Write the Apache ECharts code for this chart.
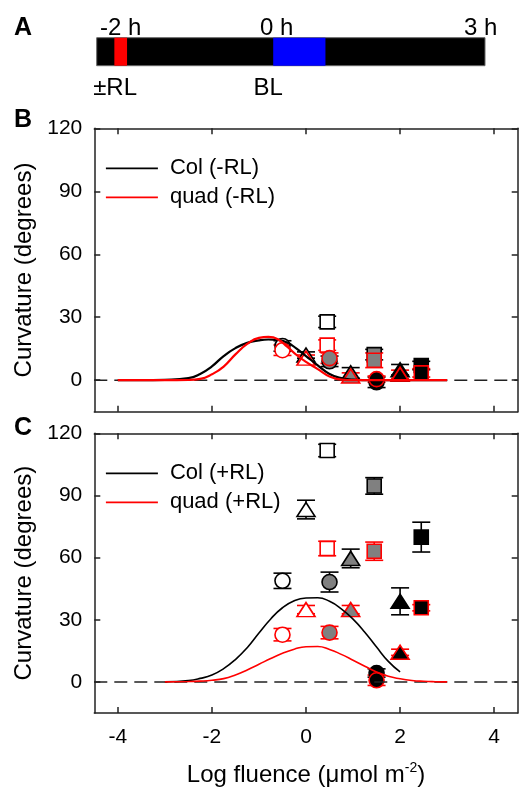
<!DOCTYPE html>
<html>
<head>
<meta charset="utf-8">
<script src="https://cdn.jsdelivr.net/npm/echarts@6/dist/echarts.min.js"></script>
<style>
  html, body { margin: 0; padding: 0; background: #fff; }
  #chart { width: 525px; height: 788px; }
</style>
</head>
<body>
<div id="chart"></div>
<script>
// ---- panel A: light schedule (hours) ----
const segStart = [-2.5, -2.25, 0];
const segEnd = [3, -2.07, 0.74];
const segColor = ['#000000', '#ff0000', '#0000ff'];
const timeTopPos = [-2.16, 0.05, 2.94];
const timeTopText = ['-2 h', '0 h', '3 h'];
const timeBotPos = [-2.24, -0.07];
const timeBotText = ['±RL', 'BL'];

// ---- panels B / C: dose response ----
const fluenceX = [-0.5, 0, 0.45, 0.5, 0.95, 1.45, 1.5, 2.0, 2.45];
const markerShape = ['circle', 'triangle', 'rect', 'circle', 'triangle', 'rect', 'circle', 'triangle', 'rect'];
const markerFill = ['open', 'open', 'open', 'gray', 'gray', 'gray', 'black', 'black', 'black'];

const colB = [16.3, 12, 27.8, 9, 3.5, 12.2, -1, 5, 7];
const colBErr = [2.5, 1.5, 2.7, 2.5, 2.5, 2.5, 2.5, 2.5, 2];
const quadB = [14.3, 10.5, 16.7, 10.5, 2, 9.5, 0.5, 2.8, 3.5];
const quadBErr = [2.5, 1.5, 2.5, 2.5, 1.5, 3.5, 1.5, 2, 2];

const colC = [48.8, 83.2, 111.7, 48.2, 59.6, 94.6, 4.3, 38.9, 69.9];
const colCErr = [3.7, 4.5, 3, 4.8, 4.5, 4, 2, 6.5, 7.2];
const quadC = [22.8, 34.9, 64.4, 23.8, 34.9, 63.1, 0.8, 14.3, 35.8];
const quadCErr = [3, 2, 3.5, 3, 2, 4.4, 2.5, 1.5, 1.5];

// fitted curves
const curveBX = [-4, -3.5, -3, -2.5, -2.25, -2, -1.75, -1.5, -1.25, -1, -0.8, -0.6, -0.4, -0.2, 0, 0.25, 0.5, 0.75, 1, 1.25, 1.5, 2, 2.5, 3];
const colBCurve = [0, 0, 0.2, 1, 3, 6.6, 11.5, 15.3, 17.8, 19, 19.4, 19.2, 18, 15, 11.5, 7.1, 3, 1, 0.3, 0.05, 0, 0, 0, 0];
const quadBCurve = [0, 0, 0, 0.1, 0.6, 2.8, 6.5, 12.3, 17.3, 20.2, 20.6, 19.5, 16, 12, 8.7, 5.3, 1.8, 0.3, 0, 0, 0, 0, 0, 0];

const colCX = [-3, -2.5, -2.25, -2, -1.75, -1.5, -1.25, -1, -0.75, -0.5, -0.25, 0, 0.25, 0.5, 0.75, 1, 1.25, 1.5, 1.75, 2];
const colCCurve = [0, 0.7, 1.7, 3.3, 6.4, 10.8, 16.5, 23.6, 30.4, 35.8, 39.2, 40.5, 40.6, 38.9, 35.3, 30.3, 24, 16.8, 9.9, 4.8];
const quadCX = [-3, -2.5, -2.25, -2, -1.75, -1.5, -1.25, -1, -0.75, -0.5, -0.25, 0, 0.25, 0.5, 0.75, 1, 1.25, 1.5, 1.75, 2, 2.25, 2.5, 2.75, 3];
const quadCCurve = [0, 0.2, 0.4, 0.8, 1.6, 3.4, 5.8, 8.5, 11.3, 13.8, 15.8, 17, 17.1, 15.7, 13.3, 10.5, 7.6, 4.8, 2.7, 1.5, 0.7, 0.3, 0.1, 0];

const zeroLineX = [-4.5, 4.5];
const xTicks = [-4, -2, 0, 2, 4];
const yTicks = [0, 30, 60, 90, 120];

const FONT = 'Liberation Sans, Arial, sans-serif';
const FRAME = '#222';
const fillColor = { open: '#ffffff', gray: '#808080', black: '#000000' };
const symSize = { circle: 15, rect: 14, triangle: [18, 14] };

const zip = (xs, ys) => xs.map((x, i) => [x, ys[i]]);

function frameX(gridIndex, position, showLabel, name) {
  return {
    type: 'value', gridIndex, position, min: -4.5, max: 4.5,
    axisLine: { onZero: false, lineStyle: { color: FRAME, width: 1.5 } },
    axisTick: { inside: true, length: 6, customValues: xTicks, lineStyle: { color: FRAME, width: 1.5 } },
    axisLabel: { show: showLabel, customValues: xTicks, fontSize: 21, margin: 14, color: '#000', fontFamily: FONT },
    splitLine: { show: false },
    name: name || '',
    nameLocation: 'middle',
    nameGap: 48,
    nameTextStyle: {
      color: '#000', fontFamily: FONT,
      rich: {
        a: { fontSize: 24, fontFamily: FONT, color: '#000' },
        s: { fontSize: 14, fontFamily: FONT, color: '#000', padding: [0, 0, 14, 0] }
      }
    }
  };
}

function frameY(gridIndex, position, showLabel) {
  return {
    type: 'value', gridIndex, position, min: -15, max: 120,
    axisLine: { onZero: false, lineStyle: { color: FRAME, width: 1.5 } },
    axisTick: { inside: true, length: 6, customValues: yTicks, lineStyle: { color: FRAME, width: 1.5 } },
    axisLabel: { show: showLabel, customValues: yTicks, fontSize: 21, margin: 12, color: '#000', fontFamily: FONT },
    splitLine: { show: false },
    name: showLabel ? 'Curvature (degrees)' : '',
    nameLocation: 'middle',
    nameGap: 56,
    nameTextStyle: { fontSize: 24, color: '#000', fontFamily: FONT }
  };
}

function errorBars(xi, yi, means, errs, color) {
  return {
    type: 'custom', xAxisIndex: xi, yAxisIndex: yi, silent: true,
    data: fluenceX.map((x, i) => [x, means[i] - errs[i], means[i] + errs[i]]),
    encode: { x: 0, y: [1, 2] },
    renderItem: function (params, api) {
      const lo = api.coord([api.value(0), api.value(1)]);
      const hi = api.coord([api.value(0), api.value(2)]);
      const w = 9;
      const style = { stroke: color, lineWidth: 1.6, fill: null };
      return {
        type: 'group', children: [
          { type: 'line', shape: { x1: lo[0], y1: lo[1], x2: hi[0], y2: hi[1] }, style },
          { type: 'line', shape: { x1: lo[0] - w, y1: lo[1], x2: lo[0] + w, y2: lo[1] }, style },
          { type: 'line', shape: { x1: hi[0] - w, y1: hi[1], x2: hi[0] + w, y2: hi[1] }, style }
        ]
      };
    }
  };
}

function markers(xi, yi, means, stroke) {
  return {
    type: 'scatter', xAxisIndex: xi, yAxisIndex: yi, silent: true,
    data: fluenceX.map((x, i) => ({
      value: [x, means[i]],
      symbol: markerShape[i],
      symbolSize: symSize[markerShape[i]],
      itemStyle: { color: fillColor[markerFill[i]], borderColor: stroke, borderWidth: 1.6, opacity: 1 }
    }))
  };
}

function curve(name, xi, yi, xs, ys, color, width) {
  return {
    type: 'line', name, xAxisIndex: xi, yAxisIndex: yi, smooth: true,
    symbol: 'none', silent: true, data: zip(xs, ys),
    lineStyle: { color, width }, itemStyle: { color }
  };
}

function zeroLine(xi, yi) {
  return {
    type: 'line', xAxisIndex: xi, yAxisIndex: yi, symbol: 'none', silent: true,
    data: zeroLineX.map(x => [x, 0]),
    lineStyle: { color: FRAME, width: 1.5, type: [13, 7] }
  };
}

function legend(top, names) {
  return {
    orient: 'vertical', left: 105, top, padding: 0,
    itemWidth: 52, itemHeight: 14, itemGap: 7,
    data: names, selectedMode: false,
    itemStyle: { color: 'rgba(0,0,0,0)', borderWidth: 0 },
    lineStyle: { width: 1.8 },
    textStyle: { fontSize: 22, lineHeight: 22, color: '#000', fontFamily: FONT, padding: [0, 0, 0, 7] }
  };
}

const chart = echarts.init(document.getElementById('chart'), null, { renderer: 'canvas' });

chart.setOption({
  animation: false,
  textStyle: { fontFamily: FONT },
  grid: [
    { left: 96.7, top: 37.7, width: 388.3, height: 28 },
    { left: 94.3, top: 128.3, width: 423.4, height: 283.4 },
    { left: 94.3, top: 433.3, width: 423.4, height: 283.4 }
  ],
  xAxis: [
    {
      type: 'value', gridIndex: 0, position: 'top', min: -2.5, max: 3,
      axisLine: { show: false }, axisTick: { show: false }, splitLine: { show: false },
      axisLabel: {
        customValues: timeTopPos, fontSize: 24, margin: -3, color: '#000', fontFamily: FONT,
        formatter: v => timeTopText[timeTopPos.indexOf(v)]
      }
    },
    {
      type: 'value', gridIndex: 0, position: 'bottom', min: -2.5, max: 3,
      axisLine: { show: false }, axisTick: { show: false }, splitLine: { show: false },
      axisLabel: {
        customValues: timeBotPos, fontSize: 24, margin: 11, color: '#000', fontFamily: FONT,
        formatter: v => timeBotText[timeBotPos.indexOf(v)]
      }
    },
    frameX(1, 'bottom', false),
    frameX(1, 'top', false),
    frameX(2, 'bottom', true, '{a|Log fluence (μmol m}{s|-2}{a|)}'),
    frameX(2, 'top', false)
  ],
  yAxis: [
    { type: 'value', gridIndex: 0, min: 0, max: 1, show: false },
    frameY(1, 'left', true),
    frameY(1, 'right', false),
    frameY(2, 'left', true),
    frameY(2, 'right', false)
  ],
  legend: [
    legend(157.3, ['Col (-RL)', 'quad (-RL)']),
    legend(462.3, ['Col (+RL)', 'quad (+RL)'])
  ],
  graphic: [
    { type: 'text', left: 14, top: 16, style: { text: 'A', font: 'bold 25px ' + FONT, fill: '#000' } },
    { type: 'text', left: 14, top: 108, style: { text: 'B', font: 'bold 25px ' + FONT, fill: '#000' } },
    { type: 'text', left: 14, top: 416, style: { text: 'C', font: 'bold 25px ' + FONT, fill: '#000' } }
  ],
  series: [
    {
      type: 'custom', xAxisIndex: 0, yAxisIndex: 0, silent: true,
      data: segStart.map((s, i) => [s, segEnd[i], i]),
      renderItem: function (params, api) {
        const a = api.coord([api.value(0), 1]);
        const b = api.coord([api.value(1), 0]);
        const idx = api.value(2);
        return {
          type: 'rect',
          shape: { x: a[0], y: a[1], width: b[0] - a[0], height: b[1] - a[1] },
          style: { fill: segColor[idx], stroke: idx === 0 ? '#666' : null, lineWidth: 1 }
        };
      }
    },
    // panel B
    zeroLine(2, 1),
    curve('Col (-RL)', 2, 1, curveBX, colBCurve, '#000000', 2.2),
    curve('quad (-RL)', 2, 1, curveBX, quadBCurve, '#ff0000', 2.2),
    errorBars(2, 1, colB, colBErr, '#000000'),
    markers(2, 1, colB, '#000000'),
    errorBars(2, 1, quadB, quadBErr, '#ff0000'),
    markers(2, 1, quadB, '#ff0000'),
    // panel C
    zeroLine(4, 3),
    curve('Col (+RL)', 4, 3, colCX, colCCurve, '#000000', 1.6),
    curve('quad (+RL)', 4, 3, quadCX, quadCCurve, '#ff0000', 1.6),
    errorBars(4, 3, colC, colCErr, '#000000'),
    markers(4, 3, colC, '#000000'),
    errorBars(4, 3, quadC, quadCErr, '#ff0000'),
    markers(4, 3, quadC, '#ff0000')
  ]
});
</script>
</body>
</html>
